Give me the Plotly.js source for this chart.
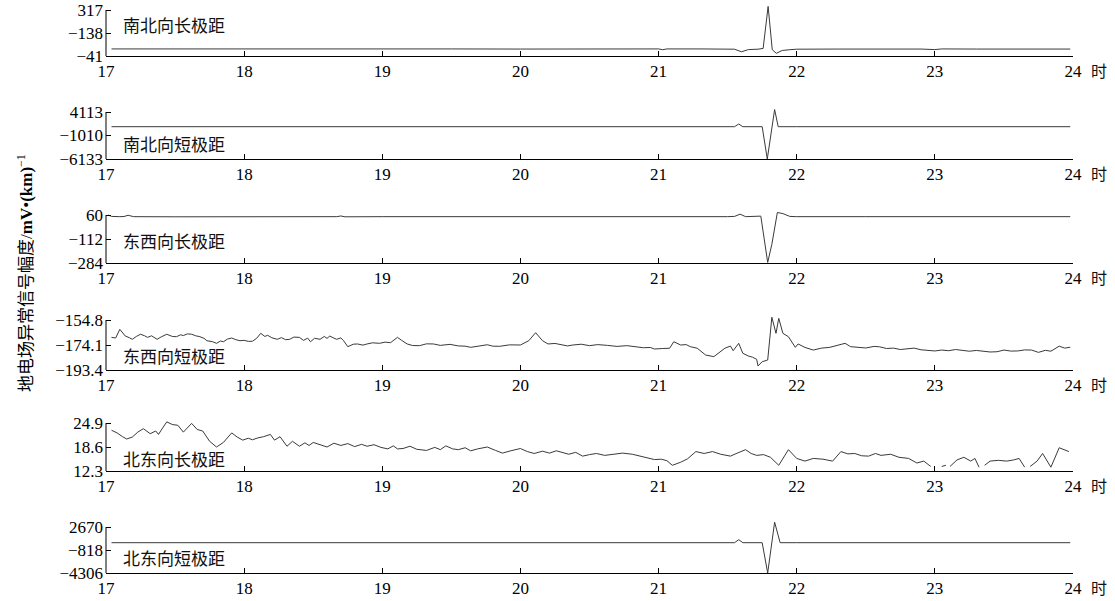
<!DOCTYPE html>
<html>
<head>
<meta charset="utf-8">
<script src="https://cdn.plot.ly/plotly-3.0.1.min.js"></script>
<style>html,body{margin:0;padding:0;background:#fff;}#chart{width:1115px;height:601px;}</style>
</head>
<body>
<div id="chart"></div>
<script>
// ---- data ----
const panelNames = ['南北向长极距','南北向短极距','东西向长极距','东西向短极距','北东向长极距','北东向短极距'];
const xTickVals = [17,18,19,20,21,22,23,24];
const xTickText = ['17','18','19','20','21','22','23','24'];
const yLow  = [-41, -6133, -284, -193.4, 12.3, -4306];
const yHigh = [317, 4113, 60, -154.8, 24.9, 2670];
const yTickText = [
  ['−41','−138','317'],
  ['−6133','−1010','4113'],
  ['−284','−112','60'],
  ['−193.4','−174.1','−154.8'],
  ['12.3','18.6','24.9'],
  ['−4306','−818','2670']
];

const t1 = [17.04,17.5,18.0,18.5,19.0,19.5,20.0,20.5,21.0,21.03,21.06,21.3,21.55,21.6,21.65,21.72,21.757,21.793,21.823,21.852,21.895,21.95,22.0,22.3,22.6,22.9,23.0,23.05,23.3,23.6,23.9,23.98];
const v1 = [14,15,14,14,15,14,13,14,14,8,14,14,12,-8,9,12,18,345,8,-20,2,8,12,13,14,13,9,14,13,12,13,13];

const t2 = [17.04,18,19,20,21,21.55,21.58,21.61,21.75,21.787,21.84,21.866,22,23,23.98];
const v2 = [910,910,910,910,910,910,1500,910,910,-6133,4650,910,910,910,910];

const t3 = [17.015,17.04,17.1,17.13,17.16,17.2,17.5,17.8,18.0,18.3,18.6,18.67,18.7,18.73,19.0,19.5,20.0,20.5,21.0,21.5,21.55,21.59,21.63,21.74,21.79,21.82,21.86,21.9,21.95,22.0,22.5,23.0,23.5,23.98];
const v3 = [60,50,48,49,58,48,47,47,48,48,47,48,53,47,48,47,48,47,48,48,50,66,48,52,-280,-150,78,70,50,48,48,48,48,48];

const t4 = [
  17.04,17.07,17.10,17.14,17.17,17.19,17.22,17.25,17.28,17.30,
  17.33,17.37,17.40,17.44,17.48,17.51,17.54,17.56,17.59,17.62,
  17.65,17.68,17.71,17.73,17.77,17.80,17.83,17.85,17.88,17.91,
  17.94,17.97,18.00,18.03,18.06,18.09,18.12,18.15,18.17,18.20,
  18.24,18.27,18.30,18.33,18.36,18.40,18.43,18.46,18.48,18.51,
  18.55,18.58,18.60,18.62,18.65,18.67,18.70,18.72,18.75,18.79,
  18.82,18.86,18.89,18.93,18.98,19.02,19.06,19.09,19.11,19.14,
  19.18,19.22,19.27,19.32,19.37,19.42,19.49,19.55,19.60,19.64,
  19.70,19.76,19.80,19.85,19.92,20.00,20.06,20.11,20.16,20.20,
  20.25,20.29,20.34,20.38,20.44,20.50,20.56,20.63,20.70,20.77,
  20.83,20.89,20.94,20.97,21.03,21.08,21.11,21.16,21.20,21.23,
  21.28,21.34,21.40,21.43,21.48,21.52,21.54,21.58,21.61,21.65,
  21.68,21.71,21.72,21.75,21.79,21.82,21.85,21.87,21.90,21.94,
  21.99,22.01,22.06,22.12,22.18,22.24,22.30,22.35,22.39,22.45,
  22.50,22.56,22.60,22.65,22.70,22.75,22.80,22.85,22.90,22.95,
  23.00,23.05,23.10,23.15,23.20,23.25,23.30,23.35,23.40,23.45,
  23.50,23.55,23.60,23.65,23.70,23.75,23.80,23.84,23.87,23.90,
  23.94,23.98];
const v4 = [
  -168.2,-168.7,-162.0,-167.2,-168.5,-169.7,-167.5,-165.8,-167.0,-168.2,
  -167.0,-169.7,-167.8,-165.8,-167.5,-167.7,-166.2,-166.8,-165.5,-165.8,
  -167.0,-167.7,-169.0,-170.8,-171.5,-172.8,-171.0,-171.6,-169.5,-168.7,
  -170.0,-170.8,-170.5,-171.3,-171.2,-169.0,-165.1,-167.5,-166.6,-168.5,
  -169.7,-168.4,-170.0,-169.7,-168.0,-168.2,-170.5,-168.8,-171.6,-168.9,
  -169.7,-167.5,-169.0,-167.2,-168.8,-169.7,-168.6,-170.8,-175.4,-173.5,
  -173.3,-174.2,-173.3,-172.4,-172.8,-171.9,-172.3,-170.0,-168.2,-170.5,
  -173.3,-174.5,-174.6,-173.2,-173.3,-174.4,-173.6,-174.8,-175.0,-175.9,
  -174.7,-173.9,-175.0,-175.1,-174.0,-174.1,-170.8,-164.6,-170.8,-173.3,
  -172.9,-173.6,-174.8,-174.1,-173.5,-174.6,-173.8,-174.4,-175.2,-174.6,
  -175.5,-176.2,-176.0,-177.2,-176.8,-176.6,-171.6,-174.1,-173.8,-175.4,
  -176.6,-181.8,-183.1,-180.5,-176.6,-174.9,-178.5,-172.8,-180.5,-182.6,
  -183.5,-185.1,-190.3,-187.0,-185.7,-152.7,-165.1,-153.5,-165.1,-167.7,
  -175.9,-173.3,-176.0,-178.0,-176.5,-175.9,-174.0,-172.8,-175.4,-176.0,
  -176.4,-175.2,-175.5,-176.8,-176.5,-177.6,-177.2,-176.5,-177.8,-178.4,
  -178.7,-178.0,-178.5,-177.6,-178.0,-178.9,-178.3,-179.0,-179.5,-179.3,
  -178.0,-178.8,-178.7,-177.9,-178.0,-179.8,-178.2,-178.9,-177.0,-175.0,
  -176.5,-175.8];

const t5 = [
  17.04,17.08,17.12,17.15,17.19,17.23,17.27,17.32,17.36,17.38,
  17.41,17.44,17.48,17.52,17.56,17.62,17.66,17.70,17.75,17.80,
  17.85,17.91,17.95,17.99,18.03,18.06,18.10,18.14,18.19,18.22,
  18.26,18.31,18.35,18.40,18.44,18.47,18.50,18.55,18.60,18.65,
  18.70,18.75,18.80,18.85,18.89,18.94,18.99,19.04,19.08,19.11,
  19.15,19.20,19.25,19.32,19.38,19.42,19.46,19.51,19.55,19.60,
  19.64,19.69,19.76,19.82,19.87,19.93,20.00,20.05,20.10,20.16,
  20.21,20.26,20.31,20.35,20.40,20.45,20.50,20.55,20.61,20.68,
  20.74,20.81,20.85,20.89,20.93,20.97,21.02,21.06,21.10,21.16,
  21.21,21.27,21.33,21.39,21.45,21.52,21.57,21.63,21.67,21.71,
  21.76,21.81,21.87,21.94,22.00,22.06,22.12,22.19,22.26,22.32,
  22.37,22.42,22.47,22.52,22.57,22.61,22.68,22.74,22.81,22.87,
  22.92,22.97,23.01,23.05,23.08,23.10,23.11,23.16,23.21,23.26,
  23.29,23.32,23.34,23.36,23.40,23.46,23.52,23.57,23.61,23.65,
  23.67,23.69,23.74,23.78,23.84,23.90,23.94,23.97];
const v5 = [
  23.0,22.3,21.3,20.7,21.2,22.5,23.4,22.1,22.8,21.9,
  23.6,25.2,24.5,24.3,22.5,24.8,23.2,22.8,20.1,18.6,
  19.8,22.3,21.2,20.4,20.9,20.5,21.0,21.3,21.9,20.4,
  21.3,18.8,20.1,18.8,19.7,19.0,19.8,19.1,18.6,19.6,
  19.0,19.5,18.7,19.3,18.8,19.2,18.5,18.1,18.9,18.1,
  18.2,18.8,18.0,17.7,18.5,17.9,18.9,18.1,17.9,18.4,
  17.6,18.1,18.6,17.7,17.0,17.6,18.2,17.4,16.9,17.5,
  17.0,17.6,17.1,16.7,17.2,16.2,16.6,16.9,16.4,16.7,
  17.0,16.7,16.3,16.0,15.7,15.3,15.4,15.0,13.8,14.6,
  15.5,17.4,16.9,17.4,16.7,16.2,17.0,17.9,16.9,16.4,
  16.6,15.9,13.8,17.9,15.6,14.9,15.6,15.4,14.9,17.4,
  16.8,16.9,16.3,16.2,16.9,16.4,16.7,15.9,15.6,14.4,
  14.9,13.5,null,13.5,13.8,null,13.5,15.2,15.9,14.9,
  15.6,13.3,null,13.8,14.9,15.1,14.9,15.2,15.6,13.3,
  null,13.5,14.9,16.9,13.3,18.4,17.9,17.4];

const t6 = [17.04,18,19,20,21,21.55,21.58,21.61,21.75,21.79,21.84,21.88,22,23,23.98];
const v6 = [290,290,290,290,290,290,750,290,290,-4306,3400,290,290,290,290];

const seriesT = [t1,t2,t3,t4,t5,t6];
const seriesV = [v1,v2,v3,v4,v5,v6];

// ---- layout geometry (pixels) ----
const W = 1115, H = 601;
const plotLeft = 106, plotRight = 1073;
const panelTop = [10, 112, 215, 320, 423, 527];
const panelBot = [56, 159, 263, 370, 471, 573];
const labelYpx = [25, 143, 240, 355, 458, 557];
const pad = 7;
const FONT = 'Liberation Serif, "Noto Sans CJK SC", serif';
const CJK = '"Noto Sans CJK SC", sans-serif';

const data = [];
const layout = {
  width: W, height: H,
  margin: {l:0, r:0, t:0, b:0},
  paper_bgcolor: '#fff', plot_bgcolor: '#fff',
  showlegend: false,
  font: {family: FONT, size: 16, color: '#000'},
  annotations: [], shapes: []
};

for (let i = 0; i < 6; i++) {
  const n = i + 1;
  const xk = n === 1 ? 'xaxis' : 'xaxis' + n;
  const yk = n === 1 ? 'yaxis' : 'yaxis' + n;
  const xr = n === 1 ? 'x' : 'x' + n;
  const yr = n === 1 ? 'y' : 'y' + n;
  const lo = yLow[i], hi = yHigh[i];
  const T = panelTop[i], B = panelBot[i];
  const hiExt = hi + pad * (hi - lo) / (B - T);

  data.push({
    x: seriesT[i], y: seriesV[i], xaxis: xr, yaxis: yr,
    type: 'scatter', mode: 'lines', connectgaps: false,
    line: {color: '#3a3a3a', width: 1}, hoverinfo: 'skip'
  });

  layout[xk] = {
    domain: [plotLeft / W, plotRight / W], range: [17, 24], anchor: yr,
    tickmode: 'array', tickvals: xTickVals, ticktext: xTickText,
    ticks: 'inside', ticklen: 5, tickwidth: 1, tickcolor: '#000',
    showline: true, linecolor: '#000', linewidth: 1,
    showgrid: false, zeroline: false, fixedrange: true,
    tickfont: {family: FONT, size: 17, color: '#000'}
  };
  layout[yk] = {
    domain: [1 - B / H, 1 - (T - pad) / H], range: [lo, hiExt], anchor: xr,
    tickmode: 'array', tickvals: [lo, (lo + hi) / 2, hi], ticktext: yTickText[i],
    ticks: 'inside', ticklen: 5, tickwidth: 1, tickcolor: '#000',
    showline: false, showgrid: false, zeroline: false, fixedrange: true,
    ticklabelstandoff: 2,
    tickfont: {family: FONT, size: 17, color: '#000'}
  };
  layout.shapes.push({
    type: 'line', xref: 'paper', yref: yr,
    x0: plotLeft / W, x1: plotLeft / W, y0: lo, y1: hi,
    line: {color: '#000', width: 1}
  });
  layout.annotations.push({
    xref: 'paper', yref: 'paper', x: 121 / W, y: 1 - labelYpx[i] / H,
    xanchor: 'left', yanchor: 'middle', showarrow: false,
    text: panelNames[i], font: {family: CJK, size: 17, color: '#111'}
  });
  layout.annotations.push({
    xref: 'paper', yref: 'paper', x: 1099 / W, y: 1 - (B + 14) / H,
    xanchor: 'center', yanchor: 'middle', showarrow: false,
    text: '时', font: {family: CJK, size: 16, color: '#111'}
  });
}

layout.annotations.push({
  xref: 'paper', yref: 'paper', x: 25 / W, y: 1 - 273 / H,
  xanchor: 'center', yanchor: 'middle', showarrow: false, textangle: -90,
  text: '地电场异常信号幅度/<b>mV</b>•<b>(km)</b><sup>−1</sup>',
  font: {family: FONT, size: 17, color: '#000'}
});

Plotly.newPlot('chart', data, layout, {staticPlot: true, displayModeBar: false});
</script>
</body>
</html>
